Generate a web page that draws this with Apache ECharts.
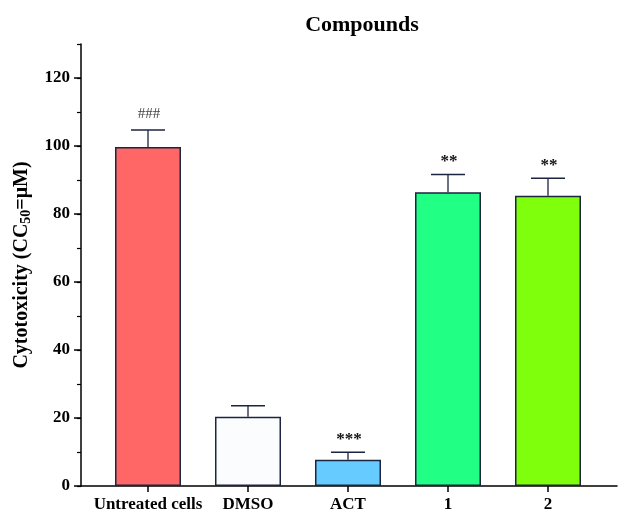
<!DOCTYPE html>
<html>
<head>
<meta charset="utf-8">
<script src="https://cdn.jsdelivr.net/npm/echarts@6/dist/echarts.min.js"></script>
<style>
  html, body { margin: 0; padding: 0; background: #ffffff; }
  #chart { width: 619px; height: 515px; }
</style>
</head>
<body>
<div id="chart"></div>
<script>
// Cytotoxicity per treatment group (mean ± error)
var categories = ['Untreated cells', 'DMSO', 'ACT', '1', '2'];
var means = [99.7, 20.4, 7.7, 86.4, 85.4];
var errors = [5.0, 3.2, 2.2, 5.2, 5.1];
var marks = ['###', '', '***', '**', '**'];
var barColors = ['#ff6666', '#fbfcfd', '#66ccff', '#22ff85', '#80ff0c'];
var yMajorTicks = [0, 20, 40, 60, 80, 100, 120];
var xTicks = [0, 1, 2, 3, 4];

var FONT = 'Liberation Serif';
var INK = '#1b2540';

var chart = echarts.init(document.getElementById('chart'));

var barData = categories.map(function (c, i) {
  return {
    value: [i, means[i]],
    itemStyle: { color: barColors[i] }
  };
});

var errData = categories.map(function (c, i) {
  return [i, means[i], errors[i]];
});

chart.setOption({
  animation: false,
  title: {
    text: 'Compounds',
    left: 357,
    top: 9,
    textAlign: 'center',
    textStyle: { fontFamily: FONT, fontSize: 22, fontWeight: 'bold', color: '#000' }
  },
  grid: { left: 81, right: 2, top: 44, bottom: 29, containLabel: false, outerBoundsMode: 'none' },
  xAxis: {
    type: 'value',
    min: -0.67,
    max: 4.69,
    splitLine: { show: false },
    axisLine: { show: true, onZero: false, lineStyle: { color: '#000', width: 1.5 } },
    axisTick: { show: true, customValues: xTicks, length: 6, lineStyle: { color: '#000', width: 1.5 } },
    axisLabel: {
      customValues: xTicks,
      margin: 10,
      formatter: function (v) { return categories[Math.round(v)]; },
      fontFamily: FONT, fontSize: 17, fontWeight: 'bold', color: '#000'
    }
  },
  yAxis: [{
    type: 'value',
    min: 0,
    max: 130,
    interval: 10,
    name: '{t|Cytotoxicity (CC}{s|50}{t|=μM)}',
    nameLocation: 'middle',
    nameGap: 45,
    nameRotate: 90,
    nameTextStyle: {
      rich: {
        t: { fontFamily: FONT, fontSize: 20, fontWeight: 'bold', color: '#000' },
        s: { fontFamily: FONT, fontSize: 14, fontWeight: 'bold', color: '#000', padding: [9, 0, 0, 0] }
      }
    },
    splitLine: { show: false },
    axisLine: { show: true, onZero: false, lineStyle: { color: '#000', width: 1.5 } },
    axisTick: { show: true, customValues: yMajorTicks, length: 7, lineStyle: { color: '#000', width: 1.5 } },
    axisLabel: {
      customValues: yMajorTicks,
      margin: 11,
      fontFamily: FONT, fontSize: 17, fontWeight: 'bold', color: '#000'
    }
  }, {
    type: 'value',
    position: 'left',
    min: 0,
    max: 130,
    interval: 10,
    splitLine: { show: false },
    axisLine: { show: false, onZero: false },
    axisTick: { show: true, length: 4, lineStyle: { color: '#000', width: 1.2 } },
    axisLabel: { show: false }
  }],
  series: [{
    type: 'bar',
    data: barData,
    barWidth: 66,
    itemStyle: { borderColor: INK, borderWidth: 1.5 },
    z: 2
  }, {
    type: 'custom',
    data: errData,
    z: 3,
    renderItem: function (params, api) {
      var x = api.value(0);
      var m = api.value(1);
      var e = api.value(2);
      var mark = marks[params.dataIndex];
      var base = api.coord([x, m]);
      var top = api.coord([x, m + e]);
      var half = 17;
      var children = [{
        type: 'line',
        shape: { x1: base[0], y1: base[1], x2: top[0], y2: top[1] },
        style: { stroke: INK, lineWidth: 1.3 }
      }, {
        type: 'line',
        shape: { x1: top[0] - half, y1: top[1], x2: top[0] + half, y2: top[1] },
        style: { stroke: INK, lineWidth: 1.5 }
      }];
      if (mark) {
        var isHash = mark.charAt(0) === '#';
        children.push({
          type: 'text',
          style: {
            text: mark,
            x: top[0] + 1,
            y: top[1] - (isHash ? 8 : 4),
            align: 'center',
            verticalAlign: 'bottom',
            fontFamily: FONT,
            fontSize: isHash ? 15 : 17,
            fontWeight: isHash ? 'normal' : 'bold',
            fill: isHash ? '#444' : '#111'
          }
        });
      }
      return { type: 'group', children: children };
    }
  }]
});
</script>
</body>
</html>
